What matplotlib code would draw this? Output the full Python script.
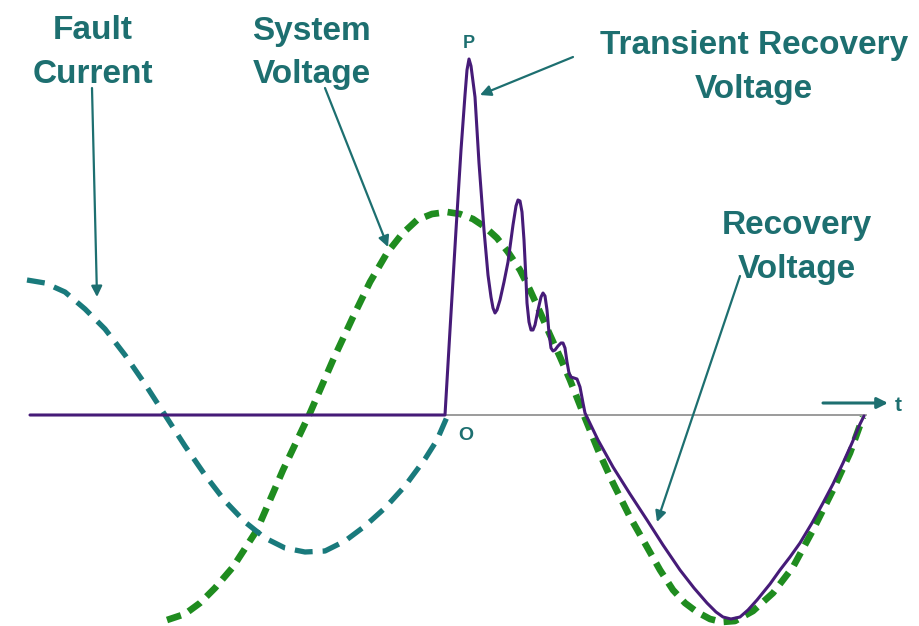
import matplotlib
matplotlib.use("Agg")
import matplotlib.pyplot as plt

plt.rcParams['font.family'] = ['Liberation Sans', 'DejaVu Sans']

# curves, in pixel units (y grows downwards, axis at y=415)
fault_x = [27, 45, 65, 85, 105, 125, 145, 165, 185, 205, 225, 245, 265, 285,
           305, 325, 345, 365, 385, 405, 425, 437, 447]
fault_y = [280, 283, 292, 309, 329, 355, 384, 415, 446, 475, 501, 522, 538, 548,
           552, 551, 541, 526, 508, 486, 459, 440, 417]

system_x = [167, 185, 200, 215, 233, 257, 283, 310, 333, 353, 370, 387, 402, 417,
            432, 447, 460, 473, 485, 497, 508, 520, 530, 540, 550, 560, 570, 583,
            598, 613, 630, 647, 660, 673, 685, 697, 710, 722, 735, 753, 773, 793,
            813, 833, 850, 863]
system_y = [620, 614, 603, 588, 567, 530, 470, 413, 360, 317, 282, 253, 234, 220,
            214, 212, 214, 219, 227, 238, 252, 270, 290, 312, 335, 357, 380, 413,
            450, 483, 517, 547, 570, 590, 603, 612, 619, 622, 621, 611, 593, 567,
            530, 490, 453, 417]

trv_x = [30, 445, 450, 456, 461, 465, 467, 469, 471, 475, 479, 484, 488, 491, 493,
         495, 497, 500, 504, 508, 513, 516, 518, 520, 522, 524, 526, 527, 529, 531,
         533, 535, 538, 541, 543, 545, 547, 549, 551, 553, 555, 558, 561, 563, 565,
         567, 569, 571, 574, 577, 580, 583, 585, 598, 613, 630, 647, 663, 680, 694,
         707, 716, 723, 731, 740, 748, 757, 770, 780, 790, 800, 812, 823, 833, 843,
         852, 860, 864]
trv_y = [415, 415, 330, 230, 150, 95, 70, 59, 66, 97, 163, 230, 275, 297, 308,
         313, 310, 300, 282, 262, 225, 206, 200, 201, 212, 240, 280, 303, 322, 330,
         330, 325, 310, 297, 293, 296, 310, 333, 348, 351, 350, 346, 343, 343, 348,
         362, 373, 377, 378, 379, 387, 403, 413, 440, 467, 494, 520, 545, 570, 588,
         603, 612, 617, 619, 617, 610, 600, 584, 570, 557, 543, 523, 503, 484, 463,
         443, 424, 416]

text_col = '#1d6f70'
fault_col = '#197a7c'
system_col = '#1f8c1f'
trv_col = '#461b78'

fig = plt.figure(figsize=(9.2, 6.26), dpi=100)
ax = fig.add_axes([0, 0, 1, 1])
ax.set_xlim(0, 920)
ax.set_ylim(626, 0)
ax.axis('off')

# time axis
ax.plot([445, 866], [415, 415], color='#8a8a8a', lw=1.2, zorder=1)

ax.plot(system_x, system_y, color=system_col, lw=4.8, dashes=(2.2, 1.3), zorder=2)
ax.plot(fault_x, fault_y, color=fault_col, lw=3.8, dashes=(3.4, 1.9), zorder=3)
ax.plot(trv_x, trv_y, color=trv_col, lw=2.2, zorder=4,
        solid_joinstyle='round', solid_capstyle='round')

# labels
fs = 24
kw = dict(color=text_col, fontsize=fs, fontweight='bold', ha='center', va='baseline')
ax.text(93, 39, 'Fault', **kw)
ax.text(93, 83, 'Current', **kw)
ax.text(311, 40, 'System', **kw)
ax.text(312, 83, 'Voltage', **kw)
ax.text(754, 54, 'Transient Recovery', **kw)
ax.text(754, 98, 'Voltage', **kw)
ax.text(797, 234, 'Recovery', **kw)
ax.text(797, 278, 'Voltage', **kw)
ax.text(469, 48, 'P', color=text_col, fontsize=13, fontweight='bold', ha='center', va='baseline')
ax.text(466, 440, 'O', color=text_col, fontsize=14, fontweight='bold', ha='center', va='baseline')
ax.text(898, 411, 't', color=text_col, fontsize=15, fontweight='bold', ha='center', va='baseline')

# pointer arrows
arrow = dict(arrowstyle='-|>', color=text_col, lw=1.6, mutation_scale=16,
             shrinkA=0, shrinkB=0)
ax.annotate('', xy=(97, 297), xytext=(92, 88), arrowprops=arrow)
ax.annotate('', xy=(388, 247), xytext=(325, 88), arrowprops=arrow)
ax.annotate('', xy=(480, 95), xytext=(573, 57), arrowprops=arrow)
ax.annotate('', xy=(657, 522), xytext=(740, 276), arrowprops=arrow)
ax.annotate('', xy=(888, 403), xytext=(823, 403), arrowprops=dict(arrow, lw=2.2))

fig.savefig('out.png', dpi=100)
